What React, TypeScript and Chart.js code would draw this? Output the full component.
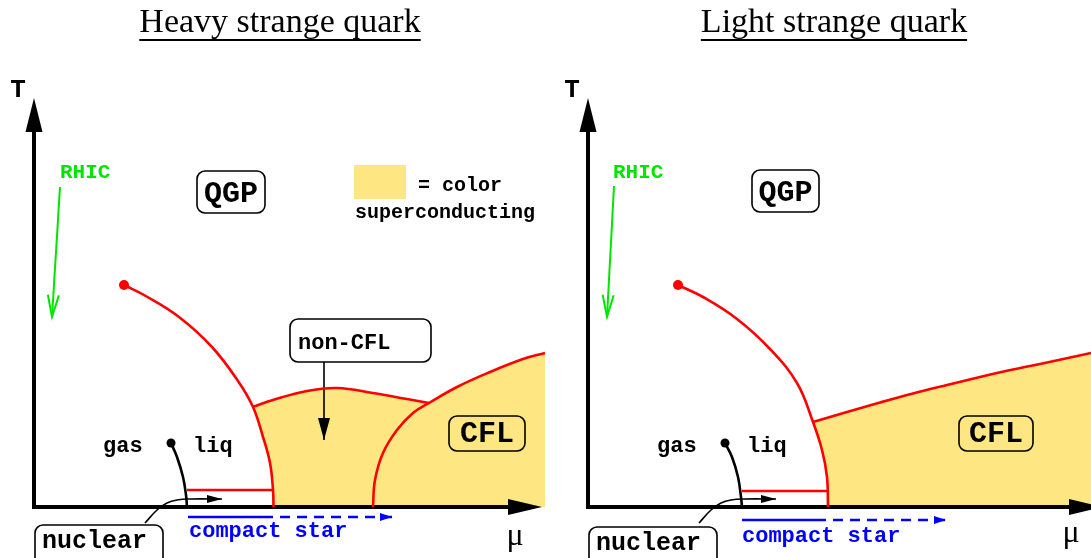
import React, { useEffect, useRef } from "react";
import { Chart, registerables } from "chart.js";
Chart.register(...registerables);

type P = [number, number];

// ---- Data (μ, T in arbitrary units; origin at the axes crossing) ----
// Heavy strange quark panel
const heavyHadronBoundary: P[] = [[90, 222], [110, 212], [145, 190], [178, 160], [204, 126], [219, 100], [229, 70], [236, 44], [239, 17], [239.5, 0]];
const heavyNonCflBoundary: P[] = [[219, 100], [239, 107], [273, 116], [303, 119], [339, 114], [373, 108], [395, 104]];
const heavyCflBoundary: P[] = [[339, 0], [341, 27], [349, 54], [363, 77], [379, 94], [395, 104], [423, 120], [456, 135], [489, 148], [511, 154]];
const heavyNuclearLine: P[] = [[153, 17], [239, 17]];
const heavyLiquidGas: P[] = [[137, 64], [143, 50], [149, 30], [152, 12], [153, 0]];
const heavyCriticalPoint: P = [90, 222];
const heavyLGEndpoint: P = [137, 64];
const heavyMuAxis: P[] = [[-2, 0], [474, 0]];
const heavyCompactSolid: P[] = [[154, -10], [229, -10]];
const heavyCompactDashed: P[] = [[229, -10], [358, -10]];
const heavyRhic: P[] = [[26, 320], [18, 190]];

// Light strange quark panel
const lightHadronBoundary: P[] = [[90, 222], [115, 210], [149, 188], [182, 158], [209, 124], [225, 85], [234, 57], [239, 30], [240, 0]];
const lightCflBoundary: P[] = [[225, 85], [259, 95], [292, 104.5], [325, 113.5], [359, 122], [392, 130], [425, 137.5], [459, 144.5], [503, 154]];
const lightNuclearLine: P[] = [[154, 16], [240, 16]];
const lightLiquidGas: P[] = [[137, 64], [144, 50], [150, 30], [153, 10], [154, 0]];
const lightCriticalPoint: P = [90, 222];
const lightLGEndpoint: P = [137, 64];
const lightMuAxis: P[] = [[-2, 0], [481, 0]];
const lightCompactSolid: P[] = [[154, -13], [228, -13]];
const lightCompactDashed: P[] = [[228, -13], [358, -13]];
const lightRhic: P[] = [[26, 321], [19, 190]];

// Shared
const tAxis: P[] = [[0, 0], [0, 375]];
const nuclearArrow: P[] = [[111, -16], [123, -3], [133, 4], [143, 7], [156, 8], [188, 8]];
const nonCflArrow: P[] = [[290, 145], [290, 67]];

const titles = ["Heavy strange quark", "Light strange quark"];

// ---- Styling ----
const RED = "#ff0000";
const YELLOW = "#fee783";
const BLUE = "#0000ff";
const GREEN = "#00e600";
const MONO = '"Liberation Mono", "DejaVu Sans Mono", monospace';
const SERIF = '"Liberation Serif", "DejaVu Serif", serif';

const xy = (a: P[]) => a.map(([x, y]) => ({ x, y }));

function line(data: P[], color: string, width: number, extra: any = {}) {
  return {
    data: xy(data),
    showLine: true,
    borderColor: color,
    backgroundColor: color,
    borderWidth: width,
    pointRadius: 0,
    pointHoverRadius: 0,
    fill: false,
    tension: 0.4,
    clip: false,
    ...extra,
  };
}

function straight(data: P[], color: string, width: number, extra: any = {}) {
  return line(data, color, width, { tension: 0, ...extra });
}

function dot(p: P, color: string, r: number) {
  return {
    data: xy([p]),
    showLine: false,
    pointRadius: r,
    pointBackgroundColor: color,
    pointBorderWidth: 0,
    pointHoverRadius: r,
    clip: false,
  };
}

type Txt = { text: string; x: number; y: number; font: string; color?: string; align?: CanvasTextAlign };
type Box = { l: number; t: number; w: number; h: number; fill?: string; stroke?: boolean; r?: number };

function makeDecor(spec: { texts: Txt[]; boxes: Box[]; title: { text: string; x: number; y: number; ul: number } }) {
  return {
    id: "decor",
    afterDatasetsDraw(chart: any) {
      const ctx: CanvasRenderingContext2D = chart.ctx;
      const xs = chart.scales.x;
      const ys = chart.scales.y;
      const px = (v: number) => xs.getPixelForValue(v);
      const py = (v: number) => ys.getPixelForValue(v);
      ctx.save();
      // arrowheads
      chart.data.datasets.forEach((ds: any, i: number) => {
        const a = ds.arrow;
        if (!a) return;
        const pts = chart.getDatasetMeta(i).data;
        const n = pts.length;
        const p1 = pts[n - 2];
        const p2 = pts[n - 1];
        let dx = p2.x - p1.x;
        let dy = p2.y - p1.y;
        const L = Math.hypot(dx, dy) || 1;
        dx /= L;
        dy /= L;
        const tx = a.ext ? p2.x + dx * a.len : p2.x;
        const ty = a.ext ? p2.y + dy * a.len : p2.y;
        const bx = tx - dx * a.len;
        const by = ty - dy * a.len;
        const nx = -dy;
        const ny = dx;
        ctx.beginPath();
        if (a.open) {
          ctx.moveTo(bx + nx * a.half, by + ny * a.half);
          ctx.lineTo(tx, ty);
          ctx.lineTo(bx - nx * a.half, by - ny * a.half);
          ctx.strokeStyle = ds.borderColor;
          ctx.lineWidth = ds.borderWidth;
          ctx.lineJoin = "miter";
          ctx.stroke();
        } else {
          ctx.moveTo(tx, ty);
          ctx.lineTo(bx + nx * a.half, by + ny * a.half);
          ctx.lineTo(bx - nx * a.half, by - ny * a.half);
          ctx.closePath();
          ctx.fillStyle = ds.borderColor;
          ctx.fill();
        }
      });
      // boxes
      for (const b of spec.boxes) {
        const x0 = px(b.l);
        const y0 = py(b.t);
        const x1 = px(b.l + b.w);
        const y1 = py(b.t - b.h);
        ctx.beginPath();
        if (b.stroke === false) {
          ctx.rect(x0, y0, x1 - x0, y1 - y0);
        } else {
          (ctx as any).roundRect(x0, y0, x1 - x0, y1 - y0, b.r ?? 8);
        }
        if (b.fill) {
          ctx.fillStyle = b.fill;
          ctx.fill();
        }
        if (b.stroke !== false) {
          ctx.strokeStyle = "#000";
          ctx.lineWidth = 1.6;
          ctx.stroke();
        }
      }
      // texts
      for (const t of spec.texts) {
        ctx.font = t.font;
        ctx.fillStyle = t.color ?? "#000";
        ctx.textAlign = t.align ?? "left";
        ctx.textBaseline = "alphabetic";
        ctx.fillText(t.text, px(t.x), py(t.y));
      }
      // title with underline
      ctx.font = `34px ${SERIF}`;
      ctx.fillStyle = "#000";
      ctx.textAlign = "center";
      const tw = ctx.measureText(spec.title.text).width;
      const cx = px(spec.title.x);
      ctx.fillText(spec.title.text, cx, py(spec.title.y));
      ctx.fillRect(cx - tw / 2, py(spec.title.ul) - 1, tw, 2);
      ctx.restore();
    },
  };
}

function makeConfig(datasets: any[], width: number, decor: any) {
  return {
    type: "scatter" as const,
    data: { datasets },
    options: {
      responsive: false,
      animation: false as const,
      devicePixelRatio: 1,
      events: [],
      layout: { padding: 0, autoPadding: false },
      scales: {
        x: { type: "linear" as const, min: -34, max: width - 34, display: false },
        y: { type: "linear" as const, min: -51, max: 507, display: false },
      },
      plugins: {
        legend: { display: false },
        tooltip: { enabled: false },
        filler: { drawTime: "beforeDatasetsDraw" },
      },
    },
    plugins: [decor],
  };
}

function heavyChart() {
  const datasets = [
    dot(heavyCriticalPoint, RED, 5),
    dot(heavyLGEndpoint, "#000", 4.5),
    line(heavyHadronBoundary, RED, 2.6, { fill: { target: "origin" }, backgroundColor: "#ffffff" }),
    line(heavyNonCflBoundary, RED, 2.6, { fill: { target: "origin" }, backgroundColor: YELLOW }),
    line(heavyCflBoundary, RED, 2.6, { fill: { target: "origin" }, backgroundColor: YELLOW }),
    straight(heavyNuclearLine, RED, 2.6),
    line(heavyLiquidGas, "#000", 2.6),
    straight(heavyMuAxis, "#000", 4, { arrow: { len: 34, half: 8, ext: true } }),
    straight(tAxis, "#000", 4, { arrow: { len: 34, half: 8.5, ext: true } }),
    line(nuclearArrow, "#000", 1.6, { arrow: { len: 15, half: 4 } }),
    straight(nonCflArrow, "#000", 1.6, { arrow: { len: 22, half: 6 } }),
    straight(heavyCompactSolid, BLUE, 2.6),
    straight(heavyCompactDashed, BLUE, 2.6, { borderDash: [10, 7], arrow: { len: 12, half: 4 } }),
    straight(heavyRhic, GREEN, 2, { arrow: { len: 22, half: 5.5, open: true } }),
  ];
  const decor = makeDecor({
    boxes: [
      { l: 320, t: 342, w: 52, h: 34, fill: YELLOW, stroke: false },
      { l: 163, t: 336, w: 68, h: 42, fill: "#fff" },
      { l: 256, t: 188, w: 141, h: 43, fill: "#fff" },
      { l: 415, t: 91, w: 76, h: 35 },
      { l: 1, t: -18, w: 128, h: 50, fill: "#fff" },
    ],
    texts: [
      { text: "T", x: -16, y: 410, font: `bold 26px ${MONO}`, align: "center" },
      { text: "\u03bc", x: 481, y: -38, font: `32px ${SERIF}`, align: "center" },
      { text: "RHIC", x: 26, y: 329, font: `bold 21px ${MONO}`, color: GREEN },
      { text: "QGP", x: 197, y: 305, font: `bold 30px ${MONO}`, align: "center" },
      { text: "= color", x: 384, y: 316, font: `bold 20px ${MONO}` },
      { text: "superconducting", x: 321, y: 289, font: `bold 20px ${MONO}` },
      { text: "non-CFL", x: 264, y: 158, font: `bold 22px ${MONO}` },
      { text: "CFL", x: 453, y: 65, font: `bold 30px ${MONO}`, align: "center" },
      { text: "gas", x: 69, y: 55, font: `bold 22px ${MONO}` },
      { text: "liq", x: 159, y: 55, font: `bold 22px ${MONO}` },
      { text: "nuclear", x: 8, y: -41, font: `bold 25px ${MONO}` },
      { text: "compact star", x: 155, y: -30, font: `bold 22px ${MONO}`, color: BLUE },
    ],
    title: { text: titles[0], x: 246, y: 475, ul: 467 },
  });
  return makeConfig(datasets, 554, decor);
}

function lightChart() {
  const datasets = [
    dot(lightCriticalPoint, RED, 5),
    dot(lightLGEndpoint, "#000", 4.5),
    line(lightHadronBoundary, RED, 2.6, { fill: { target: "origin" }, backgroundColor: "#ffffff" }),
    line(lightCflBoundary, RED, 2.6, { fill: { target: "origin" }, backgroundColor: YELLOW }),
    straight(lightNuclearLine, RED, 2.6),
    line(lightLiquidGas, "#000", 2.6),
    straight(lightMuAxis, "#000", 4, { arrow: { len: 34, half: 8, ext: true } }),
    straight(tAxis, "#000", 4, { arrow: { len: 34, half: 8.5, ext: true } }),
    line(nuclearArrow, "#000", 1.6, { arrow: { len: 15, half: 4 } }),
    straight(lightCompactSolid, BLUE, 2.6),
    straight(lightCompactDashed, BLUE, 2.6, { borderDash: [10, 7], arrow: { len: 12, half: 4 } }),
    straight(lightRhic, GREEN, 2, { arrow: { len: 22, half: 5.5, open: true } }),
  ];
  const decor = makeDecor({
    boxes: [
      { l: 164, t: 337, w: 67, h: 42, fill: "#fff" },
      { l: 371, t: 91, w: 74, h: 35 },
      { l: 1, t: -20, w: 128, h: 50, fill: "#fff" },
    ],
    texts: [
      { text: "T", x: -16, y: 410, font: `bold 26px ${MONO}`, align: "center" },
      { text: "\u03bc", x: 483, y: -35, font: `32px ${SERIF}`, align: "center" },
      { text: "RHIC", x: 25, y: 329, font: `bold 21px ${MONO}`, color: GREEN },
      { text: "QGP", x: 197.5, y: 306, font: `bold 30px ${MONO}`, align: "center" },
      { text: "CFL", x: 408, y: 65, font: `bold 30px ${MONO}`, align: "center" },
      { text: "gas", x: 69, y: 55, font: `bold 22px ${MONO}` },
      { text: "liq", x: 159, y: 55, font: `bold 22px ${MONO}` },
      { text: "nuclear", x: 8, y: -43, font: `bold 25px ${MONO}` },
      { text: "compact star", x: 154, y: -35, font: `bold 22px ${MONO}`, color: BLUE },
    ],
    title: { text: titles[1], x: 246, y: 475, ul: 467 },
  });
  return makeConfig(datasets, 537, decor);
}

export default function App() {
  const leftRef = useRef<HTMLCanvasElement>(null);
  const rightRef = useRef<HTMLCanvasElement>(null);
  useEffect(() => {
    const c1 = new Chart(leftRef.current as HTMLCanvasElement, heavyChart() as any);
    const c2 = new Chart(rightRef.current as HTMLCanvasElement, lightChart() as any);
    return () => {
      c1.destroy();
      c2.destroy();
    };
  }, []);
  return (
    <div style={{ position: "absolute", left: 0, top: 0, width: 1091, height: 558, background: "#fff", overflow: "hidden" }}>
      <canvas ref={leftRef} width={554} height={558} style={{ position: "absolute", left: 0, top: 0 }} />
      <canvas ref={rightRef} width={537} height={558} style={{ position: "absolute", left: 554, top: 0 }} />
    </div>
  );
}
